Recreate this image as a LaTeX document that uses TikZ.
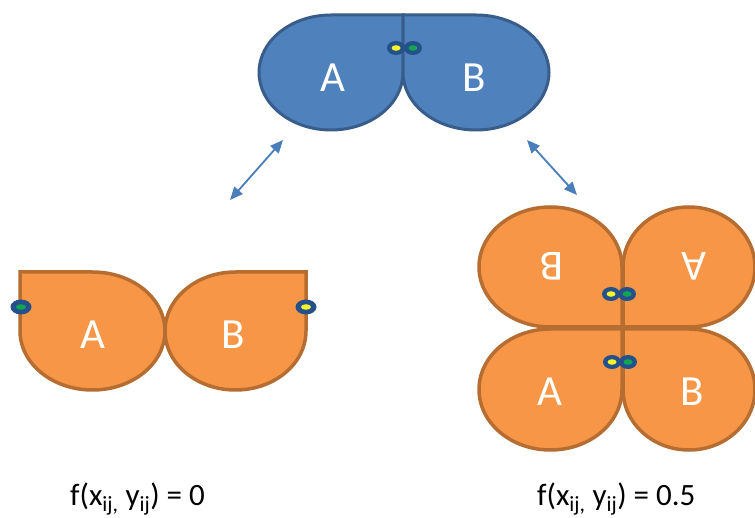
\documentclass[tikz,border=0pt]{standalone}
\usepackage{fontspec}
\setmainfont{Carlito}
\usetikzlibrary{arrows.meta}
\definecolor{bfill}{HTML}{4F81BD}
\definecolor{bline}{HTML}{385D8A}
\definecolor{ofill}{HTML}{F79646}
\definecolor{oline}{HTML}{B66D31}
\definecolor{dotdark}{HTML}{24508C}
\definecolor{dotyel}{HTML}{F5F52A}
\definecolor{dotgrn}{HTML}{13A650}
\definecolor{arrowc}{HTML}{4A7EBB}
% #1 cx, #2 cy, #3 rx, #4 ry, #5 xscale, #6 yscale, #7 style
\newcommand\teardropshape[7]{%
  \begin{scope}[shift={(#1,#2)},xscale=#5,yscale=#6]
    \filldraw[#7] (0,#4) -- (#3,#4) -- (#3,0)
      arc[start angle=0,end angle=-270,x radius=#3,y radius=#4] -- cycle;
  \end{scope}}
\tikzset{
  blobe/.style={fill=bfill,draw=bline,line width=3pt,line join=miter},
  olobe/.style={fill=ofill,draw=oline,line width=3.5pt,line join=miter},
  lbl/.style={text=white,font=\fontsize{43}{43}\selectfont,inner sep=0pt},
  formula/.style={font=\fontsize{31}{36}\selectfont,inner sep=0pt},
  dbl/.style={draw=arrowc,line width=1.8pt,{Triangle[length=13pt,width=11pt]}-{Triangle[length=13pt,width=11pt]}}
}
\newcommand\dotpair[3]{% x1 x2 y (yellow left, green right)
  \fill[dotdark] (#1,#3) ellipse[x radius=9,y radius=7];
  \fill[dotdark] (#2,#3) ellipse[x radius=9,y radius=7];
  \fill[dotyel] (#1,#3) ellipse[x radius=4.5,y radius=2.8];
  \fill[dotgrn] (#2,#3) ellipse[x radius=4.5,y radius=2.8];}
\begin{document}
\begin{tikzpicture}[x=1pt,y=1pt]
\clip (0,0) rectangle (755,517);
\fill[white] (0,0) rectangle (755,517);
% top blue pair
\teardropshape{331}{444.5}{72}{57.5}{1}{1}{blobe}
\teardropshape{476}{444.5}{73}{57.5}{-1}{1}{blobe}
\dotpair{396}{413}{469}
\node[lbl] (tA) at (333,439) {A};
\node[lbl] (tB) at (474,439) {B};
% left orange pair
\teardropshape{92.5}{186}{72.5}{59}{-1}{1}{olobe}
\teardropshape{235.5}{186}{70.5}{59}{1}{1}{olobe}
\fill[dotdark] (21,210) ellipse[x radius=10.5,y radius=7.5];
\fill[dotgrn] (21,210) ellipse[x radius=5,y radius=2.8];
\fill[dotdark] (306,210) ellipse[x radius=10.5,y radius=7.5];
\fill[dotyel] (306,210) ellipse[x radius=5,y radius=2.8];
\node[lbl] (lA) at (93,182) {A};
\node[lbl] (lB) at (233,182) {B};
% right orange quadruple
\teardropshape{550.5}{250}{71.5}{60}{1}{-1}{olobe}
\teardropshape{689}{250}{66}{60}{-1}{-1}{olobe}
\teardropshape{550.5}{127.5}{71.5}{60.5}{1}{1}{olobe}
\teardropshape{689}{127.5}{66}{60.5}{-1}{1}{olobe}
\dotpair{611}{627}{223}
\dotpair{612}{628}{155}
\node[lbl,rotate=180] (rB) at (552,251) {B};
\node[lbl,rotate=180] (rA) at (694,251) {A};
\node[lbl] (rA2) at (550,125) {A};
\node[lbl] (rB2) at (692,125) {B};
% arrows
\coordinate (a1) at (283,377);
\coordinate (a2) at (230,317);
\coordinate (b1) at (527,377);
\coordinate (b2) at (577,322);
\draw[dbl] (a1) -- (a2);
\draw[dbl] (b1) -- (b2);
% formulas
\node[formula,anchor=base west] (f1) at (70,12) {f(x\textsubscript{ij,} y\textsubscript{ij}) = 0};
\node[formula,anchor=base west] (f2) at (537,12) {f(x\textsubscript{ij,} y\textsubscript{ij}) = 0.5};
\end{tikzpicture}
\end{document}
